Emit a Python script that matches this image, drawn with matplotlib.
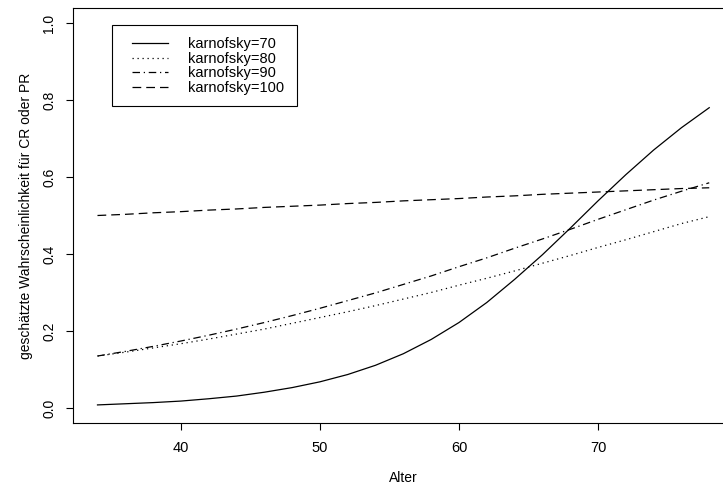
import numpy as np
import matplotlib
matplotlib.use("Agg")
import matplotlib.pyplot as plt
from matplotlib.patches import Rectangle

plt.rcParams['font.family'] = ['Liberation Sans', 'DejaVu Sans']

# geschätzte Wahrscheinlichkeiten je Karnofsky-Index, Alter 34..78 in 2er-Schritten
alter = [34, 36, 38, 40, 42, 44, 46, 48, 50, 52, 54, 56,
         58, 60, 62, 64, 66, 68, 70, 72, 74, 76, 78]
p_k70 = [0.008, 0.011, 0.014, 0.018, 0.024, 0.031, 0.041, 0.053, 0.068, 0.087,
         0.111, 0.141, 0.178, 0.222, 0.274, 0.334, 0.398, 0.467, 0.538, 0.606,
         0.670, 0.728, 0.780]
p_k80 = [0.135, 0.145, 0.156, 0.167, 0.179, 0.192, 0.205, 0.220, 0.235, 0.250,
         0.266, 0.283, 0.300, 0.319, 0.337, 0.356, 0.376, 0.396, 0.417, 0.437,
         0.458, 0.479, 0.497]
p_k90 = [0.135, 0.147, 0.160, 0.174, 0.189, 0.205, 0.222, 0.240, 0.259, 0.279,
         0.299, 0.321, 0.343, 0.367, 0.390, 0.415, 0.439, 0.464, 0.490, 0.515,
         0.540, 0.563, 0.585]
p_k100 = [0.500, 0.503, 0.507, 0.510, 0.514, 0.517, 0.521, 0.524, 0.527, 0.531,
          0.534, 0.538, 0.541, 0.544, 0.548, 0.551, 0.555, 0.558, 0.561, 0.564,
          0.567, 0.570, 0.572]
labels = ['karnofsky=70', 'karnofsky=80', 'karnofsky=90', 'karnofsky=100']

W, H = 723, 487
fig = plt.figure(figsize=(W / 100, H / 100), dpi=100)
ax = fig.add_axes([0.101, 0.1306, 0.9138, 0.8538])

lw = 0.9
ax.plot(alter, p_k70, color='black', lw=lw, label=labels[0])
ax.plot(alter, p_k80, color='black', lw=lw, dashes=(1, 3), label=labels[1])
ax.plot(alter, p_k90, color='black', lw=lw, dashes=(6, 3, 1, 3), label=labels[2])
ax.plot(alter, p_k100, color='black', lw=lw, dashes=(7, 4), label=labels[3])

# R-Stil: 4% Rand an beiden Achsen
span = alter[-1] - alter[0]
ax.set_xlim(alter[0] - 0.04 * span, alter[-1] + 0.04 * span)
ax.set_ylim(-0.04, 1.04)
ax.set_xticks([40, 50, 60, 70])
ax.set_yticks([0.0, 0.2, 0.4, 0.6, 0.8, 1.0])
ax.set_yticklabels(['0.0', '0.2', '0.4', '0.6', '0.8', '1.0'], rotation=90, va='center')
ax.tick_params(length=5, width=0.8)
ax.tick_params(axis='x', labelsize=10.5, pad=8)
ax.tick_params(axis='y', labelsize=10, pad=7)
for s in ax.spines.values():
    s.set_linewidth(0.8)

ax.set_xlabel('Alter', fontsize=10, labelpad=11)
ax.set_ylabel('geschätzte Wahrscheinlichkeit für CR oder PR', fontsize=10, labelpad=7)

# Legende ohne eigenen Rahmen, Rahmen separat (breiter Innenabstand links)
leg = ax.legend(loc='upper left', bbox_to_anchor=(132 / W, 1 - 37 / H),
                bbox_transform=fig.transFigure, fontsize=10.5, frameon=False,
                borderpad=0, borderaxespad=0,
                handlelength=2.47, handletextpad=1.37, labelspacing=0.05)
fig.patches.append(Rectangle((112 / W, 1 - 106 / H), 185 / W, 81 / H,
                             transform=fig.transFigure, fill=False,
                             edgecolor='black', lw=0.8))

fig.savefig('out.png', dpi=100)
